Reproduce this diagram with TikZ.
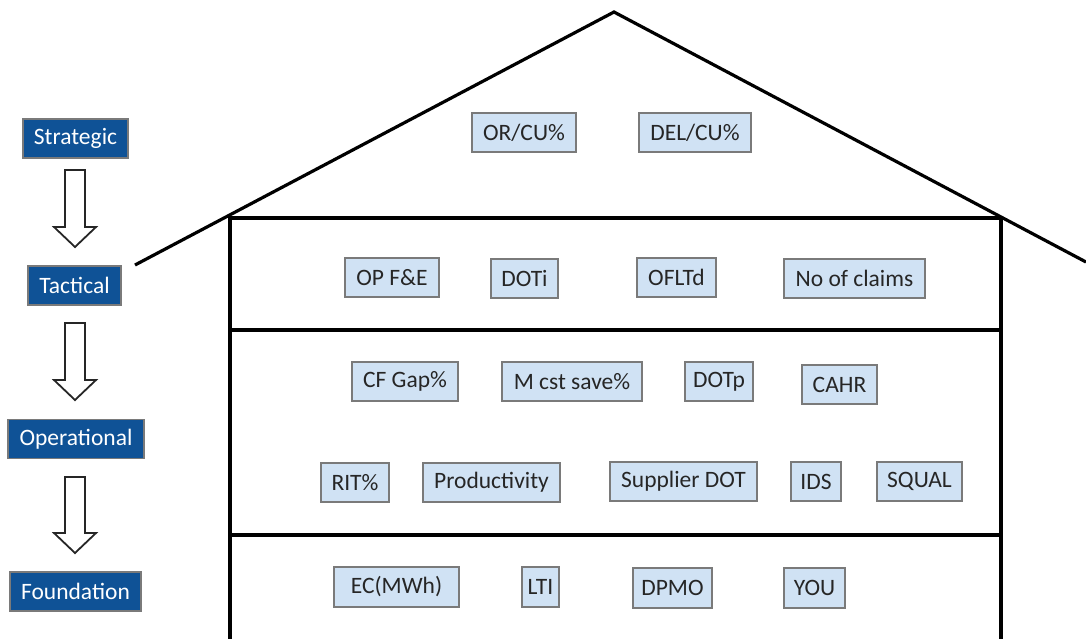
\documentclass[tikz,border=0pt]{standalone}
\usepackage{fontspec}
\setmainfont{Carlito}
\definecolor{darkblue}{HTML}{0F5296}
\definecolor{lightblue}{HTML}{D0E2F4}
\definecolor{boxgray}{HTML}{7A7A7A}
\begin{document}
\begin{tikzpicture}[x=1pt,y=-1pt,
  level/.style={draw=boxgray,line width=1.2pt,fill=darkblue,text=white,font=\fontsize{23.5}{25}\selectfont,minimum height=39pt,inner sep=0pt,anchor=center},
  metric/.style={draw=boxgray,line width=1.3pt,fill=lightblue,text=black!85,font=\fontsize{23.5}{25}\selectfont,minimum height=39pt,inner sep=0pt,anchor=center},
  house/.style={line width=3.2pt,black},
  blockarrow/.style={draw=black!85,line width=1.8pt,fill=white,line join=miter}]
\useasboundingbox (0,0) rectangle (1086,638);
% roof and house
\draw[house,line join=miter] (135,265) -- (614,12) -- (1086,262);
\draw[house] (230,640) -- (230,218) -- (1001,218) -- (1001,640);
\draw[house] (230,330) -- (1001,330);
\draw[house] (230,535) -- (1001,535);
% level labels
\node[level,minimum width=105pt] (strat) at (75.5,138.5) {Strategic};
\node[level,minimum width=93pt] (tact) at (74.5,285.5) {Tactical};
\node[level,minimum width=136pt] (oper) at (76,439) {Operational};
\node[level,minimum width=131pt] (found) at (75.5,591.5) {Foundation};
% block arrows
\draw[blockarrow] (65,170) -- (85,170) -- (85,227) -- (96,227) -- (75,247) -- (54,227) -- (65,227) -- cycle;
\draw[blockarrow] (65,323) -- (85,323) -- (85,380) -- (96,380) -- (75,400) -- (54,380) -- (65,380) -- cycle;
\draw[blockarrow] (65,477) -- (85,477) -- (85,533) -- (96,533) -- (75,553) -- (54,533) -- (65,533) -- cycle;
% strategic metrics
\node[metric,minimum width=104pt] (orcu) at (524,132.5) {OR/CU\%};
\node[metric,minimum width=112pt] (delcu) at (695,132.5) {DEL/CU\%};
% tactical metrics
\node[metric,minimum width=94pt] (opfe) at (392,277.5) {OP F\&E};
\node[metric,minimum width=67pt] (doti) at (524.5,278.5) {DOTi};
\node[metric,minimum width=79pt] (ofltd) at (676.5,277.5) {OFLTd};
\node[metric,minimum width=141pt] (claims) at (854.5,278.5) {No of claims};
% operational metrics
\node[metric,minimum width=106pt] (cfgap) at (405,381.5) {CF Gap\%};
\node[metric,minimum width=140pt] (mcst) at (572,381.5) {M cst save\%};
\node[metric,minimum width=68pt] (dotp) at (719,381.5) {DOTp};
\node[metric,minimum width=75pt] (cahr) at (839.5,384.5) {CAHR};
\node[metric,minimum width=68pt] (rit) at (355,482.5) {RIT\%};
\node[metric,minimum width=137pt] (prod) at (491.5,482.5) {Productivity};
\node[metric,minimum width=147pt] (supdot) at (683.5,481.5) {Supplier DOT};
\node[metric,minimum width=50pt] (ids) at (816,481.5) {IDS};
\node[metric,minimum width=85pt] (squal) at (919.5,481.5) {SQUAL};
% foundation metrics
\node[metric,minimum width=125pt,minimum height=40pt] (ec) at (396.5,587) {EC(MWh)};
\node[metric,minimum width=37pt,minimum height=40pt] (lti) at (540.5,587) {LTI};
\node[metric,minimum width=79pt,minimum height=40pt] (dpmo) at (672.5,588) {DPMO};
\node[metric,minimum width=61pt,minimum height=40pt] (you) at (814.5,588) {YOU};
\end{tikzpicture}
\end{document}
